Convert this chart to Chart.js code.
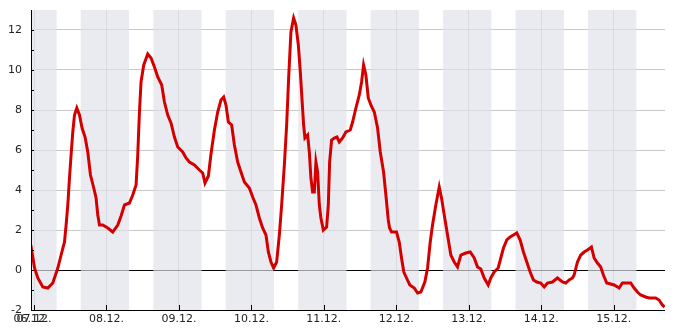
<!DOCTYPE html>
<html lang="de">

<head>
    <meta charset="UTF-8">
    <title>Verlauf 07.12. - 15.12.</title>
    <script src="https://cdn.jsdelivr.net/npm/chart.js@4/dist/chart.umd.min.js"></script>
    <style>
        body { margin: 0; background: #fff; }
        #chart { display: block; }
    </style>
</head>

<body>
    <canvas id="chart" width="685" height="330"></canvas>

    <script>
        // x values are hours after 07.12. 00:00
        const startHour = -1;          // 06.12. 23:00
        const endHour = 209;
        const startLabel = '06.12.';
        const dayTicks = [0, 24, 48, 72, 96, 120, 144, 168, 192];
        const dayLabels = ['07.12.', '08.12.', '09.12.', '10.12.', '11.12.', '12.12.', '13.12.', '14.12.', '15.12.'];
        const yTicks = [-2, 0, 2, 4, 6, 8, 10, 12];
        const yMinorTicks = [-1, 1, 3, 5, 7, 9, 11];

        // shaded from 15:30 until 07:30 of the next day
        const shadeFrom = 15.5;
        const shadeTo = 7.5;

        const hours = [
            -1.06, 0.17, 1.26, 2.91, 4.57, 6.22, 7.88, 8.97, 10.10, 10.63,
            11.19, 11.75, 12.28, 12.84, 13.41, 14.17, 15.06, 15.92, 16.91, 17.81,
            18.70, 19.79, 20.56, 21.12, 21.68, 22.77, 24.43, 26.08, 27.74, 28.83,
            29.96, 31.61, 32.70, 33.80, 34.36, 34.92, 35.45, 36.34, 37.67, 38.76,
            39.89, 40.98, 42.30, 43.20, 44.29, 45.38, 46.51, 47.60, 49.25, 50.35,
            51.47, 53.13, 54.78, 55.87, 56.63, 57.76, 58.62, 59.75, 60.84, 61.93,
            62.82, 63.58, 64.38, 65.47, 66.37, 67.46, 68.55, 69.68, 71.33, 72.42,
            73.52, 74.64, 75.73, 76.83, 77.62, 78.48, 79.37, 80.37, 81.26, 82.02,
            82.92, 83.68, 84.34, 85.10, 85.99, 86.75, 87.55, 88.21, 88.74, 89.30,
            89.73, 90.63, 91.19, 91.72, 92.28, 92.85, 93.38, 93.94, 94.50, 95.03,
            95.83, 96.92, 97.48, 97.91, 98.57, 99.47, 100.33, 101.12, 102.21, 103.31,
            104.76, 105.52, 106.62, 107.74, 108.50, 109.16, 109.93, 110.72, 111.58, 112.71,
            113.80, 114.69, 115.78, 116.55, 117.34, 117.77, 118.42, 120.07, 120.97, 121.73,
            122.49, 123.38, 124.48, 125.95, 127.04, 128.13, 129.45, 130.35, 131.24, 132.00,
            133.09, 134.22, 134.98, 135.88, 136.97, 138.06, 139.19, 140.28, 141.37, 143.03,
            144.48, 145.81, 146.90, 147.99, 149.12, 150.44, 151.30, 152.43, 153.75, 154.61,
            155.50, 156.60, 157.72, 158.81, 159.91, 161.03, 162.12, 163.22, 164.34, 165.43,
            166.53, 167.85, 168.98, 170.07, 171.72, 173.38, 175.03, 176.13, 177.25, 178.34,
            178.91, 180.00, 181.09, 182.22, 183.31, 184.63, 185.53, 186.62, 187.71, 188.60,
            189.70, 191.02, 192.15, 193.80, 194.89, 196.55, 197.64, 198.77, 199.86, 200.95,
            202.61, 203.73, 204.82, 205.91, 207.04, 208.13, 208.89
        ];
        const values = [
            1.25, 0.1, -0.4, -0.85, -0.9, -0.65, 0.1, 0.75, 1.4, 2.25,
            3.25, 4.6, 5.75, 6.9, 7.75, 8.1, 7.75, 7.1, 6.65, 5.9,
            4.75, 4.1, 3.6, 2.75, 2.25, 2.25, 2.1, 1.9, 2.25, 2.7,
            3.25, 3.35, 3.75, 4.25, 5.75, 7.9, 9.4, 10.25, 10.8, 10.6,
            10.15, 9.65, 9.25, 8.4, 7.75, 7.35, 6.65, 6.15, 5.9, 5.6,
            5.4, 5.25, 5.0, 4.85, 4.35, 4.7, 5.8, 7.0, 7.9, 8.5,
            8.65, 8.25, 7.4, 7.25, 6.25, 5.4, 4.9, 4.4, 4.1, 3.65,
            3.25, 2.6, 2.1, 1.75, 0.9, 0.4, 0.1, 0.4, 1.75, 3.25,
            5.25, 7.25, 9.6, 11.9, 12.6, 12.25, 11.25, 9.9, 8.6, 7.25,
            6.6, 6.75, 5.9, 4.6, 3.9, 3.9, 5.4, 4.9, 3.25, 2.6,
            2.0, 2.15, 3.25, 5.4, 6.5, 6.6, 6.65, 6.4, 6.6, 6.9,
            7.0, 7.4, 8.1, 8.75, 9.4, 10.25, 9.75, 8.6, 8.25, 7.9,
            7.1, 5.9, 4.9, 3.75, 2.5, 2.1, 1.9, 1.9, 1.4, 0.6,
            -0.1, -0.4, -0.75, -0.9, -1.15, -1.1, -0.6, 0.1, 1.4, 2.25,
            3.25, 4.15, 3.6, 2.75, 1.75, 0.75, 0.4, 0.15, 0.75, 0.85,
            0.9, 0.6, 0.15, 0.05, -0.4, -0.75, -0.4, -0.1, 0.1, 0.6,
            1.1, 1.5, 1.65, 1.75, 1.85, 1.5, 0.9, 0.4, -0.1, -0.5,
            -0.6, -0.65, -0.85, -0.65, -0.6, -0.4, -0.6, -0.65, -0.5, -0.4,
            -0.25, 0.4, 0.75, 0.9, 1.0, 1.15, 0.6, 0.35, 0.15, -0.25,
            -0.65, -0.7, -0.75, -0.9, -0.65, -0.65, -0.65, -0.9, -1.1, -1.25,
            -1.35, -1.4, -1.4, -1.4, -1.5, -1.75, -1.85
        ];

        // shaded night bands, drawn over the grid but under the line
        const shadePlugin = {
            id: 'shade',
            beforeDatasetsDraw(chart) {
                const { ctx, chartArea, scales } = chart;
                const x = scales.x;
                ctx.save();
                ctx.beginPath();
                ctx.rect(chartArea.left, chartArea.top, chartArea.right - chartArea.left, chartArea.bottom - chartArea.top);
                ctx.clip();
                ctx.fillStyle = 'rgba(224, 226, 234, 0.68)';
                for (let d = -1; d < dayTicks.length; d++) {
                    const a = x.getPixelForValue(d * 24 + shadeFrom - 24);
                    const b = x.getPixelForValue(d * 24 + shadeTo);
                    ctx.fillRect(a, chartArea.top, b - a, chartArea.bottom - chartArea.top);
                }
                ctx.restore();
            },
            afterDatasetsDraw(chart) {
                const { ctx, chartArea, scales } = chart;
                ctx.save();
                ctx.strokeStyle = '#000';
                ctx.lineWidth = 1;
                ctx.beginPath();
                // axis lines
                ctx.moveTo(chartArea.left + 0.5, chartArea.top);
                ctx.lineTo(chartArea.left + 0.5, chartArea.bottom + 0.5);
                ctx.lineTo(chartArea.right, chartArea.bottom + 0.5);
                // inner tick marks
                [startHour].concat(dayTicks).forEach(v => {
                    const px = Math.round(scales.x.getPixelForValue(v)) + 0.5;
                    ctx.moveTo(px, chartArea.bottom);
                    ctx.lineTo(px, chartArea.bottom - 5);
                });
                yTicks.concat(yMinorTicks).forEach(v => {
                    const py = Math.round(scales.y.getPixelForValue(v)) + 0.5;
                    ctx.moveTo(chartArea.left, py);
                    ctx.lineTo(chartArea.left + 3, py);
                });
                ctx.stroke();
                ctx.restore();
            }
        };

        const font = { family: "'DejaVu Sans', sans-serif", size: 11 };

        new Chart(document.getElementById('chart').getContext('2d'), {
            type: 'line',
            data: {
                datasets: [{
                    data: hours.map((h, i) => ({ x: h, y: values[i] })),
                    borderColor: '#d40000',
                    borderWidth: 3,
                    pointRadius: 0,
                    tension: 0,
                    fill: false
                }]
            },
            options: {
                responsive: false,
                animation: false,
                devicePixelRatio: 1,
                layout: { padding: { top: 10, right: 20, left: 0, bottom: 0 } },
                plugins: {
                    legend: { display: false },
                    tooltip: { enabled: false }
                },
                scales: {
                    x: {
                        type: 'linear',
                        min: startHour,
                        max: endHour,
                        afterBuildTicks: (scale) => {
                            scale.ticks = [startHour].concat(dayTicks).map(v => ({ value: v }));
                        },
                        afterFit: (scale) => {
                            scale.height = 20;
                            scale.paddingLeft = 0;
                            scale.paddingRight = 0;
                        },
                        ticks: {
                            autoSkip: false,
                            maxRotation: 0,
                            padding: 3,
                            color: '#222',
                            font: font,
                            callback: (v) => v === startHour ? startLabel : dayLabels[dayTicks.indexOf(v)]
                        },
                        grid: { color: '#cccccc', drawTicks: false },
                        border: { display: false }
                    },
                    y: {
                        min: -2,
                        max: 13,
                        afterBuildTicks: (scale) => {
                            scale.ticks = yTicks.map(v => ({ value: v }));
                        },
                        afterFit: (scale) => {
                            scale.width = 31;
                            scale.paddingTop = 0;
                            scale.paddingBottom = 0;
                        },
                        ticks: {
                            padding: 9,
                            color: '#222',
                            font: font
                        },
                        grid: {
                            color: (c) => c.tick && c.tick.value === 0 ? '#000' : '#c8c8c8',
                            drawTicks: false
                        },
                        border: { display: false }
                    }
                }
            },
            plugins: [shadePlugin]
        });
    </script>
</body>

</html>
